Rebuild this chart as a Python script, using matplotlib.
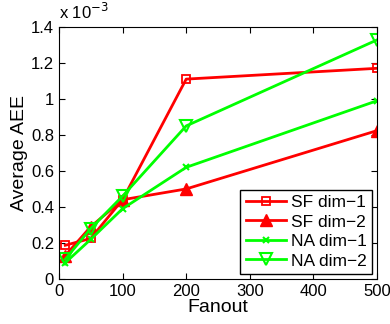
import matplotlib
matplotlib.use("Agg")
import matplotlib.pyplot as plt

fanout = [10, 50, 100, 200, 500]
sf_dim1 = [0.187, 0.225, 0.44, 1.11, 1.17]
sf_dim2 = [0.13, 0.29, 0.44, 0.50, 0.824]
na_dim1 = [0.09, 0.22, 0.39, 0.62, 0.99]
na_dim2 = [0.11, 0.28, 0.46, 0.85, 1.328]
yticks = [0, 0.2, 0.4, 0.6, 0.8, 1, 1.2, 1.4]
ytick_labels = ["0", "0.2", "0.4", "0.6", "0.8", "1", "1.2", "1.4"]

plt.rcParams['font.family'] = ['Liberation Sans', 'DejaVu Sans']

fig = plt.figure(figsize=(3.9, 3.24), dpi=100)
ax = fig.add_axes([0.151, 0.139, 0.816, 0.778])

lw = 2
ax.plot(fanout, sf_dim1, color='red', lw=lw, marker='s', ms=5.5, mfc='none', mew=1.3, label='SF dim\u22121')
ax.plot(fanout, sf_dim2, color='red', lw=lw, marker='^', ms=8, label='SF dim\u22122')
ax.plot(fanout, na_dim1, color='#00ff00', lw=lw, marker='x', ms=4.5, mew=1.5, label='NA dim\u22121')
ax.plot(fanout, na_dim2, color='#00ff00', lw=lw, marker='v', ms=8, mfc='none', mew=1.5, label='NA dim\u22122')

ax.set_xlim(0, 500)
ax.set_ylim(0, 1.4)
ax.set_xticks([0, 100, 200, 300, 400, 500])
ax.set_yticks(yticks)
ax.set_yticklabels(ytick_labels)
ax.tick_params(direction='in', top=True, right=True, labelsize=12, length=4)
ax.set_xlabel('Fanout', fontsize=14, labelpad=0)
ax.set_ylabel('Average AEE', fontsize=14, labelpad=2)
ax.text(0.0, 1.02, 'x 10$^{-3}$', transform=ax.transAxes, fontsize=12, va='bottom', ha='left')

leg = ax.legend(loc='lower right', fontsize=12.5, fancybox=False, framealpha=1,
                edgecolor='black', handlelength=2.3, borderpad=0.3, labelspacing=0.25,
                handletextpad=0.3, borderaxespad=0.3)
leg.get_frame().set_linewidth(1)

fig.savefig('out.png', dpi=100)
